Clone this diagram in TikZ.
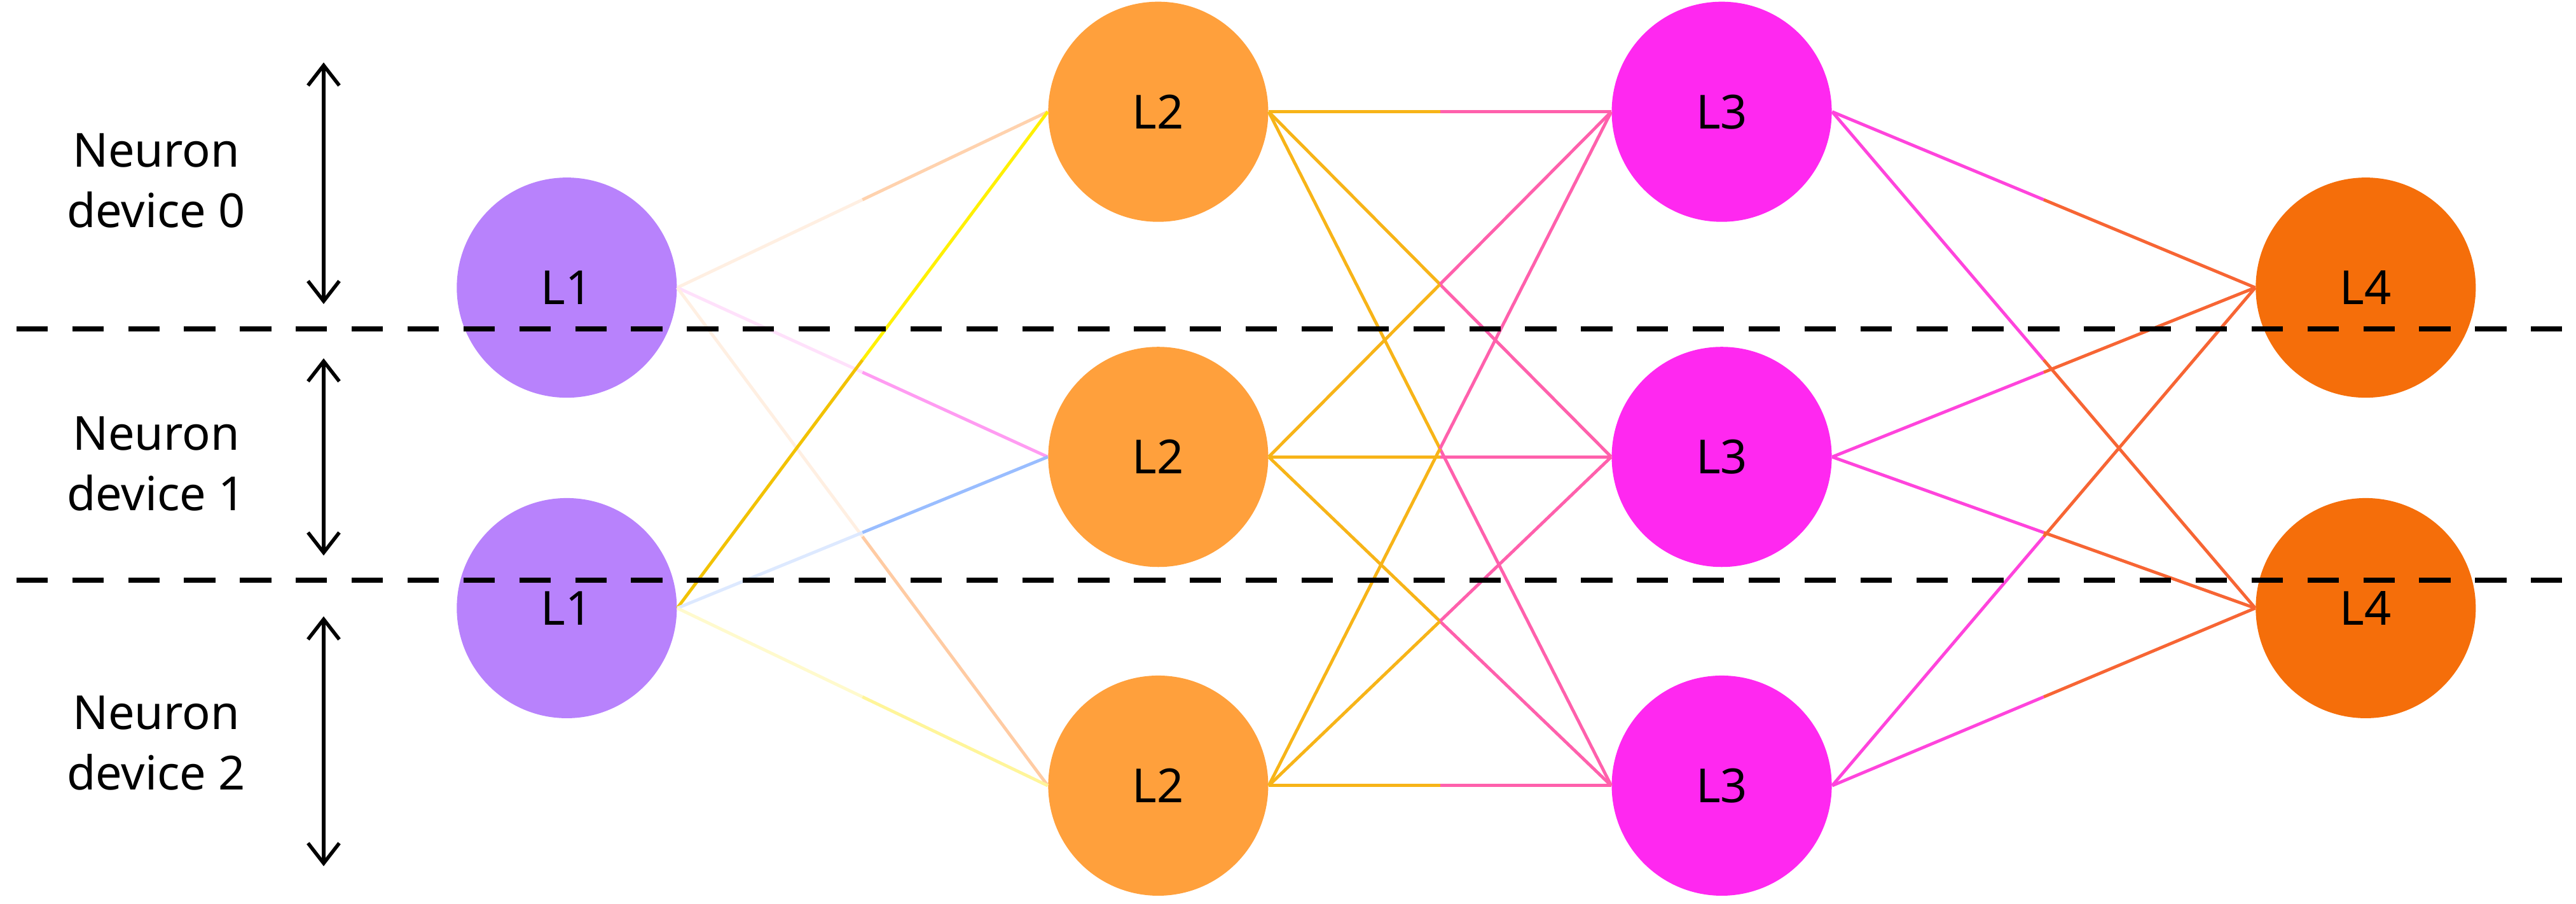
\documentclass[tikz,border=0pt]{standalone}
\usepackage{fontspec}
\setmainfont{Noto Sans}
\usepackage{tikz}
\usetikzlibrary{arrows.meta,calc}
\definecolor{LOne}{HTML}{B882FC}
\definecolor{LTwo}{HTML}{FFA03C}
\definecolor{LThree}{HTML}{FF28F0}
\definecolor{LFour}{HTML}{F56E0A}
\definecolor{Peach}{HTML}{FFBE8C}
\definecolor{Pinkish}{HTML}{FF9CF2}
\definecolor{Gold}{HTML}{F2C200}
\definecolor{Lemon}{HTML}{FFF000}
\definecolor{Sky}{HTML}{8EB6FF}
\definecolor{PaleLemon}{HTML}{FFF59A}
\definecolor{Magenta}{HTML}{FF44DC}
\newcommand{\halfedge}[4]{%
  \draw[#3] (#1.east) -- ($(#1.east)!0.5!(#2.west)$);
  \draw[#4] ($(#1.east)!0.5!(#2.west)$) -- (#2.west);}

\begin{document}
\begin{tikzpicture}[x=0.02584cm, y=-0.02584cm,
                    neuron/.style={circle, minimum size=3.46cm, inner sep=0pt,
                                   font=\fontsize{21}{25}\selectfont},
                    conn/.style={line width=1.4pt},
                    device/.style={align=center, font=\fontsize{21}{27}\selectfont},
                    span/.style={{Straight Barb[length=9pt,width=14pt]}-{Straight Barb[length=9pt,width=14pt]}, line width=1.6pt},
                    cut/.style={dash pattern=on 14pt off 11pt, line width=2.2pt}]
\useasboundingbox (0,0) rectangle (1568,550);
% layers
\node[neuron, fill=LOne] (a1) at (345,175) {L1};
\node[neuron, fill=LOne] (a2) at (345,370) {L1};
\node[neuron, fill=LTwo] (b1) at (705,68) {L2};
\node[neuron, fill=LTwo] (b2) at (705,278) {L2};
\node[neuron, fill=LTwo] (b3) at (705,478) {L2};
\node[neuron, fill=LThree] (c1) at (1048,68) {L3};
\node[neuron, fill=LThree] (c2) at (1048,278) {L3};
\node[neuron, fill=LThree] (c3) at (1048,478) {L3};
\node[neuron, fill=LFour] (d1) at (1440,175) {L4};
\node[neuron, fill=LFour] (d2) at (1440,370) {L4};
% L1 -> L2
\halfedge{a1}{b1}{conn, Peach!25}{conn, Peach!70}
\halfedge{a1}{b2}{conn, Pinkish!30}{conn, Pinkish}
\halfedge{a1}{b3}{conn, Peach!25}{conn, Peach!80}
\halfedge{a2}{b1}{conn, Gold}{conn, Lemon}
\halfedge{a2}{b2}{conn, Sky!30}{conn, Sky!90}
\halfedge{a2}{b3}{conn, PaleLemon!50}{conn, PaleLemon}
% L2 -> L3
\foreach \s in {b1,b2,b3}
  \foreach \t in {c1,c2,c3}
    {\halfedge{\s}{\t}{conn, Gold!60!LTwo}{conn, Magenta!70!LTwo}}
% L3 -> L4
\foreach \s in {c1,c2,c3}
  \foreach \t in {d1,d2}
    {\halfedge{\s}{\t}{conn, Magenta}{conn, LFour!80!Magenta}}
% device split
\coordinate (l0) at (10,200);  \coordinate (r0) at (1562,200);
\coordinate (l1) at (10,353);  \coordinate (r1) at (1562,353);
\draw[cut] (l0) -- (r0);
\draw[cut] (l1) -- (r1);
\node[device] (dev0) at (95,110) {Neuron\\device 0};
\node[device] (dev1) at (95,282) {Neuron\\device 1};
\node[device] (dev2) at (95,452) {Neuron\\device 2};
\coordinate (t0) at (197,38);  \coordinate (e0) at (197,185);
\coordinate (t1) at (197,218); \coordinate (e1) at (197,338);
\coordinate (t2) at (197,375); \coordinate (e2) at (197,527);
\draw[span] (t0) -- (e0);
\draw[span] (t1) -- (e1);
\draw[span] (t2) -- (e2);
\end{tikzpicture}
\end{document}
